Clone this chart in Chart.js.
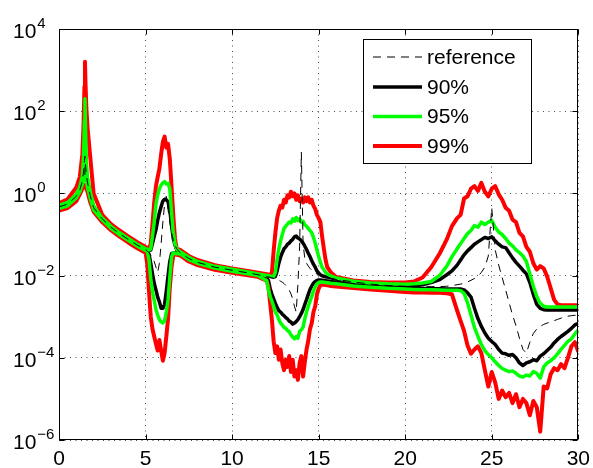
<!DOCTYPE html>
<html>
<head>
<meta charset="utf-8">
<title>Bandas de confianza</title>
<script src="https://cdn.jsdelivr.net/npm/chart.js@4/dist/chart.umd.min.js"></script>
<style>
  html, body { margin: 0; padding: 0; background: #fff; }
  #wrap { width: 593px; height: 468px; }
</style>
</head>
<body>
<div id="wrap"><canvas id="grafica" width="593" height="468"></canvas></div>
<script>
// frecuencias (eje x)
const xs = [0, 0.5, 1, 1.2, 1.35, 1.42, 1.47, 1.5, 1.53, 1.58, 1.65, 1.8, 2, 2.5, 3, 3.5, 4, 4.5, 5,
  5.1, 5.2, 5.3, 5.4, 5.5, 5.6, 5.7, 5.8, 5.9, 6, 6.1, 6.2, 6.3, 6.4, 6.5, 6.6, 6.7, 6.8, 7, 7.5, 8, 9, 10, 11, 11.5, 12,
  12.1, 12.2, 12.3, 12.4, 12.5, 12.6, 12.7, 12.8, 12.9, 13, 13.1, 13.2, 13.3, 13.4, 13.5, 13.6, 13.7, 13.8, 13.9, 14,
  14.1, 14.2, 14.3, 14.4, 14.5, 14.6, 14.7, 14.8, 14.9, 15, 15.1, 15.2, 15.3, 15.4, 15.5,
  15.7, 16, 17, 18, 19, 20, 20.5, 21, 21.5, 22, 22.4, 22.7,
  23, 23.2, 23.4, 23.6, 23.8, 24, 24.2, 24.4, 24.6, 24.8, 25, 25.2, 25.4, 25.6, 25.8, 26, 26.2, 26.4, 26.6, 26.8,
  27, 27.2, 27.4, 27.6, 27.8, 28, 28.2, 28.4, 28.6, 28.8, 29, 29.2, 29.4, 29.6, 29.8, 30];

const refVals = [0.47, 0.55, 0.85, 1.2, 2.0, 3.5, 6.3, 8, 5, 2.8, 1.8, 0.9, 0.45, 0.24, 0.15, 0.105, 0.076, 0.056, 0.043,
  0.04, 0.036, 0.032, 0.028, 0.022, 0.016, 0.012, 0.02, 0.06, 0.2, 0.55, 0.85, 0.4, 0.2, 0.11, 0.075, 0.055, 0.045, 0.036, 0.026, 0.021, 0.016, 0.0135, 0.0115, 0.0105, 0.0095,
  0.0093, 0.0091, 0.0089, 0.0086, 0.0083, 0.008, 0.0077, 0.0073, 0.0069, 0.0064,
  0.0058, 0.0052, 0.0044, 0.0036, 0.0027, 0.0018, 0.0013, 0.006, 0.05, 10,
  0.06, 0.026, 0.02, 0.017, 0.015, 0.0135, 0.0125, 0.0115, 0.011, 0.0105,
  0.01, 0.0097, 0.0094, 0.0092, 0.009,
  0.0086, 0.0081, 0.007, 0.0062, 0.0057, 0.0055, 0.0054, 0.0054, 0.0054, 0.0054, 0.0055, 0.0057,
  0.006, 0.0062, 0.0065, 0.007, 0.0077, 0.0085, 0.0095, 0.012, 0.016, 0.03,
  0.45, 0.042, 0.018, 0.009, 0.0045, 0.0022, 0.0011, 6e-4, 3e-4, 1.6e-4,
  1.3e-4, 2.4e-4, 3.9e-4, 5e-4, 5.8e-4, 6.5e-4, 7e-4, 7.5e-4, 8e-4, 8.6e-4,
  9.2e-4, 1e-3, 1.03e-3, 1.06e-3, 1.08e-3, 1.1e-3];

const up90 = [0.49, 0.57, 0.88, 1.25, 2.2, 4, 7, 10, 6, 3.2, 2.0, 0.95, 0.47, 0.245, 0.154, 0.107, 0.078, 0.057, 0.044,
  0.043, 0.041, 0.042, 0.06, 0.09, 0.13, 0.22, 0.34, 0.48, 0.65, 0.72, 0.7, 0.62, 0.4, 0.17, 0.08, 0.055, 0.043, 0.037, 0.027, 0.0215, 0.0164, 0.0138, 0.0118, 0.0107, 0.0098,
  0.0097, 0.0095, 0.0093, 0.0092, 0.0095, 0.013, 0.02, 0.028, 0.036, 0.045,
  0.05, 0.058, 0.062, 0.07, 0.076, 0.088, 0.092, 0.082, 0.078, 0.07,
  0.062, 0.052, 0.043, 0.035, 0.029, 0.023, 0.019, 0.016, 0.013, 0.0115,
  0.0105, 0.0099, 0.0096, 0.0094, 0.0092,
  0.0088, 0.0083, 0.0071, 0.0064, 0.006, 0.0058, 0.0058, 0.006, 0.0068, 0.008, 0.0105, 0.013,
  0.018, 0.024, 0.032, 0.04, 0.048, 0.058, 0.066, 0.075, 0.085, 0.08,
  0.088, 0.07, 0.058, 0.05, 0.048, 0.036, 0.027, 0.021, 0.017, 0.0135,
  0.011, 0.0068, 0.0035, 0.002, 0.0016, 0.00148, 0.00145, 0.00145, 0.00145, 0.00145,
  0.00145, 0.00145, 0.00145, 0.00145, 0.00145, 0.00145];

const low90 = [0.45, 0.53, 0.82, 1.15, 1.9, 3.0, 3.6, 3.8, 3.4, 2.6, 1.7, 0.86, 0.43, 0.235, 0.146, 0.102, 0.074, 0.054, 0.042,
  0.04, 0.033, 0.02, 0.011, 0.0065, 0.0045, 0.003, 0.0023, 0.0016, 0.0016, 0.002, 0.0042, 0.01, 0.022, 0.034, 0.036, 0.036, 0.035, 0.035, 0.025, 0.0205, 0.0156, 0.0132, 0.0112, 0.0103, 0.0088,
  0.0075, 0.0048, 0.0035, 0.0027, 0.0021, 0.0017, 0.0014, 0.0013, 0.00115, 0.00105,
  9.5e-4, 8.8e-4, 7.8e-4, 7.4e-4, 6.6e-4, 7e-4, 7.6e-4, 8.5e-4, 1.0e-3, 1.2e-3,
  1.5e-3, 2.0e-3, 2.6e-3, 3.5e-3, 4.6e-3, 5.6e-3, 6.5e-3, 7.2e-3, 7.6e-3, 7.8e-3,
  7.8e-3, 7.7e-3, 7.6e-3, 7.5e-3, 7.4e-3,
  7.2e-3, 6.9e-3, 6.0e-3, 5.5e-3, 5.2e-3, 5.0e-3, 4.9e-3, 4.85e-3, 4.8e-3, 4.8e-3, 4.75e-3, 4.7e-3,
  0.0047, 0.0047, 0.0045, 0.0038, 0.003, 0.0016, 9e-4, 5.8e-4, 4e-4, 3e-4,
  2.5e-4, 2.1e-4, 1.6e-4, 1.3e-4, 1.25e-4, 1.15e-4, 1.2e-4, 1.0e-4, 7.5e-5, 6.5e-5,
  7.5e-5, 8e-5, 9e-5, 8.5e-5, 1.1e-4, 1.25e-4, 1.5e-4, 1.8e-4, 2.3e-4, 2.8e-4,
  3.3e-4, 3.8e-4, 4.4e-4, 5.2e-4, 6.3e-4, 6.9e-4];

const up95 = [0.51, 0.6, 0.95, 1.4, 2.6, 8, 60, 200, 40, 6, 2.4, 1.1, 0.5, 0.25, 0.158, 0.11, 0.08, 0.059, 0.045,
  0.044, 0.042, 0.045, 0.09, 0.2, 0.55, 0.9, 1.3, 1.6, 1.8, 1.95, 1.7, 1.75, 1.3, 0.35, 0.11, 0.06, 0.044, 0.038, 0.028, 0.022, 0.0168, 0.0142, 0.012, 0.011, 0.0101,
  0.0099, 0.0097, 0.0095, 0.0096, 0.012, 0.025, 0.045, 0.07, 0.1, 0.14,
  0.16, 0.18, 0.2, 0.19, 0.24, 0.21, 0.26, 0.22, 0.24, 0.2,
  0.21, 0.17, 0.16, 0.14, 0.125, 0.11, 0.085, 0.062, 0.042, 0.029,
  0.021, 0.016, 0.014, 0.012, 0.011,
  0.0098, 0.0088, 0.0073, 0.0066, 0.0063, 0.0062, 0.0063, 0.0066, 0.0072, 0.0102, 0.017, 0.029,
  0.045, 0.06, 0.08, 0.105, 0.125, 0.165, 0.15, 0.2, 0.175, 0.2,
  0.22, 0.15, 0.115, 0.1, 0.08, 0.062, 0.053, 0.042, 0.036, 0.03,
  0.022, 0.011, 0.0055, 0.0031, 0.0021, 0.0018, 0.00172, 0.00172, 0.00172, 0.00172,
  0.00172, 0.00172, 0.00172, 0.00172, 0.00172, 0.00172];

const low95 = [0.43, 0.5, 0.78, 1.1, 1.7, 2.2, 2.5, 2.6, 2.4, 2.0, 1.4, 0.78, 0.4, 0.225, 0.142, 0.099, 0.072, 0.053, 0.041,
  0.039, 0.024, 0.0085, 0.004, 0.0025, 0.0015, 0.0011, 8.5e-4, 7.5e-4, 7e-4, 8e-4, 1.3e-3, 2.6e-3, 0.009, 0.028, 0.036, 0.035, 0.034, 0.034, 0.0245, 0.02, 0.0152, 0.0128, 0.011, 0.0101, 0.0075,
  0.0045, 0.0031, 0.0024, 0.0018, 0.0013, 0.0011, 8.5e-4, 7e-4, 6.3e-4, 5.5e-4,
  5.2e-4, 4.6e-4, 4.3e-4, 3.6e-4, 3.2e-4, 2.9e-4, 3.3e-4, 3.0e-4, 4.4e-4, 4.8e-4,
  5.6e-4, 9e-4, 1.3e-3, 1.8e-3, 2.4e-3, 3.1e-3, 4.2e-3, 5.3e-3, 6.2e-3, 6.8e-3,
  7e-3, 7e-3, 6.9e-3, 6.8e-3, 6.7e-3,
  6.5e-3, 6.3e-3, 5.6e-3, 5.2e-3, 4.9e-3, 4.7e-3, 4.6e-3, 4.5e-3, 4.5e-3, 4.45e-3, 4.4e-3, 4.4e-3,
  0.0044, 0.0043, 0.0037, 0.0022, 0.0011, 5.5e-4, 3.3e-4, 2.1e-4, 1.5e-4, 1.2e-4,
  1.0e-4, 8e-5, 6.5e-5, 5.5e-5, 5e-5, 4.6e-5, 4.8e-5, 4.2e-5, 3.6e-5, 3.4e-5,
  3.8e-5, 3.6e-5, 4.6e-5, 4.2e-5, 3.2e-5, 6e-5, 7.5e-5, 8.5e-5, 1.0e-4, 1.25e-4,
  1.6e-4, 2.0e-4, 2.5e-4, 2.9e-4, 3.8e-4, 4.8e-4];

const up99 = [0.58, 0.72, 1.4, 2.5, 9, 50, 400, 1600, 500, 120, 40, 8, 1.0, 0.3, 0.18, 0.125, 0.09, 0.066, 0.05,
  0.047, 0.045, 0.06, 0.18, 0.6, 1.5, 2.5, 4, 9, 18, 24, 13, 16, 7, 1.5, 0.3, 0.08, 0.045, 0.042, 0.03, 0.024, 0.018, 0.015, 0.0128, 0.0118, 0.0108,
  0.0105, 0.0102, 0.012, 0.04, 0.11, 0.25, 0.38, 0.5, 0.45, 0.7,
  0.6, 0.9, 0.8, 1.1, 0.85, 1.0, 0.7, 0.9, 0.65, 0.75,
  0.6, 0.8, 0.65, 0.8, 0.6, 0.7, 0.5, 0.42, 0.3, 0.25,
  0.2, 0.09, 0.045, 0.024, 0.016,
  0.012, 0.0093, 0.0076, 0.007, 0.0068, 0.0068, 0.0072, 0.009, 0.016, 0.035, 0.076, 0.16,
  0.25, 0.3, 0.75, 0.85, 1.3, 1.5, 1.15, 1.8, 1.1, 0.85,
  1.3, 1.5, 0.95, 0.7, 0.45, 0.38, 0.23, 0.2, 0.11, 0.09,
  0.05, 0.038, 0.02, 0.014, 0.017, 0.015, 0.0095, 0.005, 0.0026, 0.002,
  0.0019, 0.0019, 0.0019, 0.0019, 0.0019, 0.0019];

const low99 = [0.38, 0.44, 0.65, 0.95, 1.3, 1.45, 1.55, 1.6, 1.5, 1.3, 1.1, 0.62, 0.36, 0.2, 0.127, 0.089, 0.064, 0.047, 0.036,
  0.019, 0.004, 1.0e-3, 5e-4, 3.3e-4, 2.2e-4, 1.5e-4, 2.7e-4, 1.5e-4, 8.5e-5, 1.3e-4, 3.3e-4, 9e-4, 0.005, 0.016, 0.031, 0.034, 0.032, 0.031, 0.022, 0.018, 0.0138, 0.0117, 0.01, 0.0093, 0.0075,
  0.0054, 0.0021, 8.4e-4, 2.5e-4, 1.3e-4, 1.9e-4, 9e-5, 1.6e-4, 7.5e-5, 5e-5,
  9e-5, 6e-5, 1.1e-4, 4.5e-5, 9e-5, 3.5e-5, 5e-5, 2.9e-5, 7.5e-5, 1.1e-4,
  3.5e-5, 8e-5, 1.6e-4, 2.6e-4, 5e-4, 7e-4, 1.3e-3, 1.8e-3, 3.5e-3, 4.8e-3,
  5.8e-3, 6.1e-3, 6.0e-3, 5.9e-3, 5.8e-3,
  5.6e-3, 5.4e-3, 5.0e-3, 4.6e-3, 4.3e-3, 4.0e-3, 3.9e-3, 3.9e-3, 3.8e-3, 3.8e-3, 3.7e-3, 3.5e-3,
  1.4e-3, 7.9e-4, 4.5e-4, 2.0e-4, 1.26e-4, 1.6e-4, 1.9e-4, 1.3e-4, 5e-5, 2e-5,
  4.5e-5, 2.5e-5, 1.0e-5, 1.6e-5, 1.1e-5, 1.4e-5, 7.9e-6, 1.3e-5, 6.3e-6, 1.0e-5,
  7.9e-6, 4e-6, 8.9e-6, 6.3e-6, 1.6e-6, 2e-5, 1.8e-5, 4e-5, 5.6e-5, 5e-5,
  7e-5, 5.6e-5, 1e-4, 1.9e-4, 2.4e-4, 1.4e-4];

// etiquetas de los ejes
const yTicks = [1e-6, 1e-4, 1e-2, 1, 1e2, 1e4];
const yExp = ['\u22126', '\u22124', '\u22122', '0', '2', '4'];
const legendNames = ['reference', '90%', '95%', '99%'];

const fuente = '"Liberation Sans", Arial, Helvetica, sans-serif';
Chart.defaults.font.family = fuente;

const toPts = vals => xs.map((x, i) => ({ x: x, y: vals[i] }));
const linea = (label, vals, color, ancho, dash) => ({
  label: label,
  data: toPts(vals),
  borderColor: color,
  borderWidth: ancho,
  borderDash: dash || [],
  pointRadius: 0,
  fill: false,
  tension: 0,
  borderJoinStyle: 'round',
  borderCapStyle: 'butt'
});

// el primero queda encima: referencia, verde, rojo, negro
const datasets = [
  linea(legendNames[0], refVals, '#000000', 1, [8, 6]),
  linea(legendNames[2], up95, '#00ff00', 3.5),
  linea(legendNames[2], low95, '#00ff00', 3.5),
  linea(legendNames[3], up99, '#ff0000', 4),
  linea(legendNames[3], low99, '#ff0000', 4),
  linea(legendNames[1], up90, '#000000', 3.5),
  linea(legendNames[1], low90, '#000000', 3.5)
];
const legendIdx = [0, 5, 1, 3];

// marco, marcas, etiquetas 10^n y leyenda
const decoracion = {
  id: 'decoracion',
  afterDatasetsDraw(chart) {
    const { ctx, chartArea: a, scales } = chart;
    const L = Math.round(a.left) + 0.5, R = Math.round(a.right) - 0.5;
    const T = Math.round(a.top) + 0.5, B = Math.round(a.bottom) - 0.5;
    ctx.save();
    ctx.setLineDash([]);
    ctx.strokeStyle = '#000';
    ctx.lineWidth = 1;
    ctx.strokeRect(L, T, R - L, B - T);

    // marcas hacia dentro
    ctx.beginPath();
    scales.x.ticks.forEach(t => {
      const px = Math.round(scales.x.getPixelForValue(t.value)) + 0.5;
      ctx.moveTo(px, B); ctx.lineTo(px, B - 5);
      ctx.moveTo(px, T); ctx.lineTo(px, T + 5);
    });
    yTicks.forEach(v => {
      const py = Math.round(scales.y.getPixelForValue(v)) + 0.5;
      ctx.moveTo(L, py); ctx.lineTo(L + 5, py);
      ctx.moveTo(R, py); ctx.lineTo(R - 5, py);
    });
    ctx.stroke();

    // etiquetas del eje y
    ctx.fillStyle = '#000';
    ctx.textAlign = 'left';
    ctx.textBaseline = 'alphabetic';
    yTicks.forEach((v, i) => {
      const py = scales.y.getPixelForValue(v);
      ctx.font = '21px ' + fuente;
      ctx.fillText('10', 13, py + 9);
      const w = ctx.measureText('10').width;
      ctx.font = '15px ' + fuente;
      ctx.fillText(yExp[i], 13 + w + 1, py - 1);
    });

    // leyenda
    const bx = 363.5, by = 39.5, bw = 168, bh = 124;
    ctx.fillStyle = '#fff';
    ctx.fillRect(bx, by, bw, bh);
    ctx.strokeStyle = '#000';
    ctx.lineWidth = 1;
    ctx.strokeRect(bx, by, bw, bh);
    const filas = [57, 87, 116.5, 146];
    legendIdx.forEach((k, i) => {
      const ds = chart.data.datasets[k];
      ctx.strokeStyle = ds.borderColor;
      ctx.lineWidth = ds.borderWidth;
      ctx.setLineDash(ds.borderDash);
      ctx.beginPath();
      ctx.moveTo(373, filas[i]);
      ctx.lineTo(422, filas[i]);
      ctx.stroke();
      ctx.setLineDash([]);
      ctx.fillStyle = '#000';
      ctx.font = '21px ' + fuente;
      ctx.textBaseline = 'middle';
      ctx.fillText(legendNames[i], 427, filas[i] + 1);
    });
    ctx.restore();
  }
};

const grafica = new Chart(document.getElementById('grafica'), {
  type: 'line',
  data: { datasets: datasets },
  options: {
    responsive: false,
    animation: false,
    devicePixelRatio: 1,
    layout: { padding: { left: 59, right: 13, top: 29, bottom: 0 } },
    plugins: { legend: { display: false }, tooltip: { enabled: false } },
    scales: {
      x: {
        type: 'linear',
        min: 0,
        max: 30,
        afterFit: s => { s.height = 28; },
        ticks: { stepSize: 5, color: '#000', font: { size: 21, lineHeight: 1.58 }, padding: 3, maxRotation: 0, autoSkip: false },
        grid: { color: 'rgba(0,0,0,0.7)', lineWidth: 1, drawTicks: false },
        border: { display: false, dash: [1, 4.5] }
      },
      y: {
        type: 'logarithmic',
        min: 1e-6,
        max: 1e4,
        afterBuildTicks: s => { s.ticks = yTicks.map(v => ({ value: v })); },
        ticks: { display: false },
        grid: { color: 'rgba(0,0,0,0.7)', lineWidth: 1, drawTicks: false },
        border: { display: false, dash: [1, 4.5] }
      }
    }
  },
  plugins: [decoracion]
});
</script>
</body>
</html>
